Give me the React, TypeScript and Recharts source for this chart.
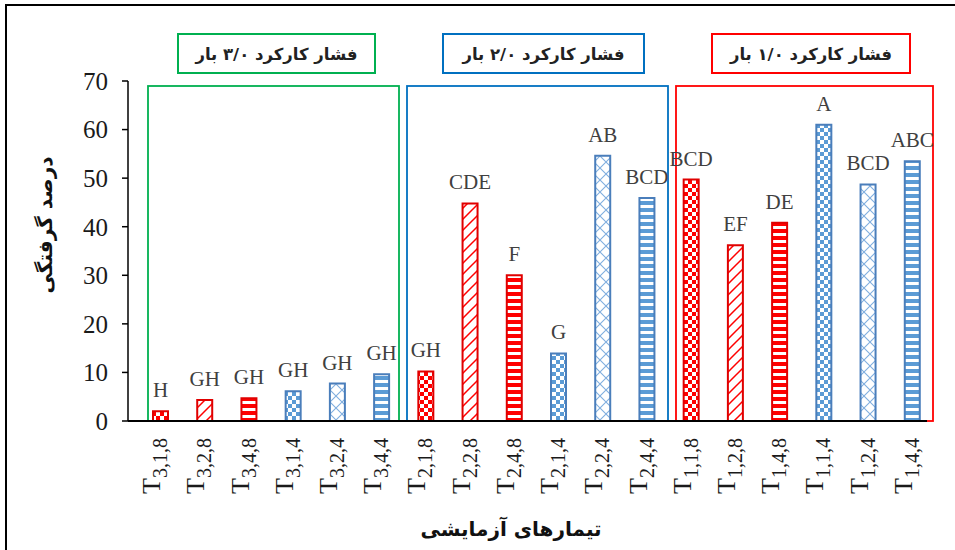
import React from "react";
import { BarChart, Bar, XAxis, YAxis, Cell, LabelList } from "recharts";

// treatment codes (subscript of T): pressure, level, series
const categories = [
  "3,1,8", "3,2,8", "3,4,8", "3,1,4", "3,2,4", "3,4,4",
  "2,1,8", "2,2,8", "2,4,8", "2,1,4", "2,2,4", "2,4,4",
  "1,1,8", "1,2,8", "1,4,8", "1,1,4", "1,2,4", "1,4,4",
];
const values = [
  2.0, 4.3, 4.7, 6.1, 7.7, 9.6,
  10.2, 44.8, 30.0, 13.9, 54.6, 45.9,
  49.7, 36.2, 40.8, 61.0, 48.7, 53.5,
];
const letters = [
  "H", "GH", "GH", "GH", "GH", "GH",
  "GH", "CDE", "F", "G", "AB", "BCD",
  "BCD", "EF", "DE", "A", "BCD", "ABC",
];
const yTicks = [0, 10, 20, 30, 40, 50, 60, 70];
const groupTitles = [
  "فشار کارکرد ۳/۰ بار",
  "فشار کارکرد ۲/۰ بار",
  "فشار کارکرد ۱/۰ بار",
];
const yTitle = "درصد گرفتگی";
const xTitle = "تیمارهای آزمایشی";

const data = categories.map((c, i) => ({ cat: c, value: values[i], letter: letters[i] }));

const RED = "#FF0000";
const BLUE = "#5B9BD5";

const fillFor = (cat: string) => {
  const [, mid, last] = cat.split(",");
  const color = last === "8" ? "red" : "blue";
  const pat = mid === "1" ? "checker" : mid === "2" ? "diag" : "stripe";
  return `url(#${pat}-${color})`;
};
const strokeFor = (cat: string) => (cat.split(",")[2] === "8" ? "#E00000" : "#4A7EBB");

const XTick = (props: any) => {
  const { x, y, payload } = props;
  return (
    <g transform={`translate(${x},${y})`}>
      <text transform="rotate(-90)" x={-15} y={0} textAnchor="end" fontFamily="Liberation Serif" fill="#1a1a1a">
        <tspan fontSize={26}>T</tspan>
        <tspan fontSize={20} dy={7}>{payload.value}</tspan>
      </text>
    </g>
  );
};

const groupBoxes = [
  { x: 148, w: 251, color: "#00B050", tx: 178, tw: 197 },
  { x: 407, w: 261, color: "#0070C0", tx: 443, tw: 201 },
  { x: 676, w: 257, color: "#FF0000", tx: 712, tw: 198 },
];

export default function App() {
  return (
    <div style={{ position: "absolute", left: 0, top: 0, width: 955, height: 550, overflow: "hidden", background: "#fff" }}>
      <svg width={955} height={550} style={{ position: "absolute", left: 0, top: 0 }}>
        <rect x={6} y={5} width={1000} height={1000} fill="none" stroke="#000" strokeWidth={2} />
        {groupBoxes.map((g, i) => (
          <g key={i}>
            <rect x={g.x} y={86} width={g.w} height={335} fill="none" stroke={g.color} strokeWidth={1.8} />
            <rect x={g.tx} y={34} width={g.tw} height={39} fill="none" stroke={g.color} strokeWidth={2} />
            <text
              x={g.tx + g.tw / 2}
              y={60}
              textAnchor="middle"
              fontFamily="DejaVu Sans"
              fontWeight="bold"
              fontSize={16.5}
              letterSpacing={0.5}
              fill="#222"
              direction="rtl"
            >
              {groupTitles[i]}
            </text>
          </g>
        ))}
        <text
          transform="translate(52,225) rotate(-90)"
          textAnchor="middle"
          fontFamily="DejaVu Sans"
          fontWeight="bold"
          fontSize={20}
          fill="#111"
          direction="rtl"
        >
          {yTitle}
        </text>
        <text x={511} y={536} textAnchor="middle" fontFamily="DejaVu Sans" fontWeight="bold" fontSize={20} fill="#111" direction="rtl">
          {xTitle}
        </text>
      </svg>
      <div style={{ position: "absolute", left: 0, top: 0 }}>
        <BarChart width={955} height={550} data={data} margin={{ top: 81, right: 28, left: 68, bottom: 29 }}>
          <defs>
            {[["red", RED], ["blue", BLUE]].map(([name, c]) => (
              <React.Fragment key={name}>
                <pattern id={`checker-${name}`} width={8} height={8} patternUnits="userSpaceOnUse">
                  <rect width={8} height={8} fill={c} />
                  <rect x={0} y={0} width={4} height={4} fill="#fff" />
                  <rect x={4} y={4} width={4} height={4} fill="#fff" />
                </pattern>
                <pattern id={`stripe-${name}`} width={8} height={7} patternUnits="userSpaceOnUse">
                  <rect width={8} height={7} fill={c} />
                  <rect x={0} y={2} width={8} height={3} fill="#fff" />
                </pattern>
              </React.Fragment>
            ))}
            <pattern id="diag-red" width={11} height={11} patternUnits="userSpaceOnUse">
              <rect width={11} height={11} fill="#fff" />
              <path d="M0,11 L11,0 M-2,2 L2,-2 M9,13 L13,9" stroke={RED} strokeWidth={1.5} />
            </pattern>
            <pattern id="diag-blue" width={12} height={12} patternUnits="userSpaceOnUse">
              <rect width={12} height={12} fill="#fff" />
              <path d="M0,12 L12,0 M0,0 L12,12" stroke="#7FAEDF" strokeWidth={1.1} />
            </pattern>
          </defs>
          <XAxis
            dataKey="cat"
            interval={0}
            tick={<XTick />}
            tickLine={false}
            tickSize={0}
            height={100}
            padding={{ left: 10, right: -7 }}
            axisLine={{ stroke: "#000", strokeWidth: 2 }}
          />
          <YAxis
            domain={[0, 70]}
            ticks={yTicks}
            interval={0}
            width={60}
            tickSize={6}
            tickMargin={14}
            axisLine={{ stroke: "#000", strokeWidth: 1.5 }}
            tickLine={{ stroke: "#000", strokeWidth: 1.5 }}
            tick={{ fontSize: 25, fontFamily: "Liberation Serif", fill: "#1a1a1a" }}
          />
          <Bar dataKey="value" barSize={15} isAnimationActive={false}>
            {data.map((d) => (
              <Cell key={d.cat} fill={fillFor(d.cat)} stroke={strokeFor(d.cat)} strokeWidth={2} />
            ))}
            <LabelList dataKey="letter" position="top" offset={14} fill="#404040" fontSize={21} fontFamily="Liberation Serif" />
          </Bar>
        </BarChart>
      </div>
    </div>
  );
}
